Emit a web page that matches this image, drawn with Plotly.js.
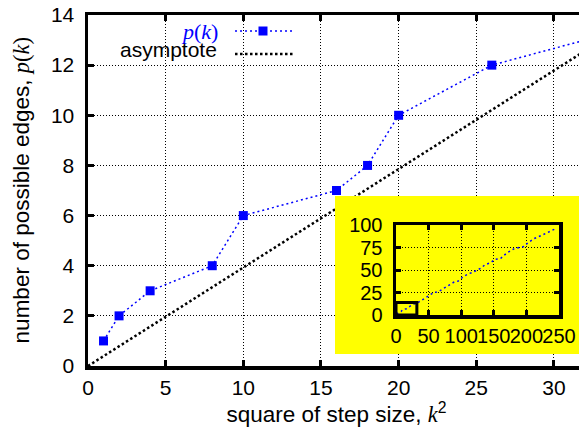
<!DOCTYPE html>
<html>
<head>
<meta charset="utf-8">
<script src="https://cdn.plot.ly/plotly-3.0.1.min.js"></script>
<style>
html, body { margin:0; padding:0; overflow:hidden; background:#fff; width:579px; height:439px; }
#main { position:absolute; left:0; top:0; }
#inset { position:absolute; left:335px; top:196px; }
</style>
</head>
<body>
<div id="main"></div>
<div id="inset"></div>
<script>
// ---- data ----
const k2All = [1, 2, 4, 8, 10, 16, 18, 20, 26, 32, 40, 50, 58, 64, 82, 90, 95, 104, 112, 118, 130, 136, 146, 152, 160, 170, 182, 196, 202, 212, 225, 245];
const pAll  = [1, 2, 3, 4, 6, 7, 8, 10, 12, 13, 17, 22, 25, 25.5, 34, 37, 37.5, 43, 46, 47.5, 52, 55.5, 58.5, 62, 62.5, 69, 74, 76, 80, 85, 89, 96];
const asymptoteX = [0, 32];
const asymptoteY = [0, 12.57];
const mainXRange = [0, 32];
const mainYRange = [0, 14];
const insetXRange = [0, 250];
const insetYRange = [0, 100];
const legendLabels = ['<i>p</i>(<i>k</i>)', 'asymptote'];
const xTitle = 'square of step size, <span style="font-family:Liberation Serif"><i>k</i></span><sup>2</sup>';
const yTitle = 'number of possible edges, <span style="font-family:Liberation Serif"><i>p</i>(<i>k</i>)</span>';

const BLUE = '#0000ff';
const SANS = 'Liberation Sans, Arial, sans-serif';
const SERIF = 'Liberation Serif, Times New Roman, serif';

function axisStyle(extra) {
  return Object.assign({
    showgrid: true, gridcolor: '#000', gridwidth: 1, griddash: '1px,2px',
    showline: true, linecolor: '#000', linewidth: 3.5, mirror: 'ticks',
    ticks: 'inside', ticklen: 6, tickwidth: 3, tickcolor: '#000',
    zeroline: false, tickangle: 0, tickfont: {family: SANS, size: 21, color: '#000'},
    fixedrange: true
  }, extra);
}

const mainTraces = [
  {x: k2All, y: pAll, type: 'scatter', mode: 'lines+markers', showlegend: false,
   line: {color: BLUE, width: 1.5, dash: '2px,3px'},
   marker: {symbol: 'square', size: 9, color: BLUE}},
  {x: asymptoteX, y: asymptoteY, type: 'scatter', mode: 'lines', showlegend: false,
   line: {color: '#000', width: 2.5, dash: '2.5px,2.5px'}}
];

const mainLayout = {
  width: 592, height: 439,
  margin: {l: 88, r: 7, t: 15, b: 73},
  paper_bgcolor: '#fff', plot_bgcolor: '#fff',
  font: {family: SANS, color: '#000'},
  xaxis: axisStyle({range: mainXRange, tick0: 0, dtick: 5,
    title: {text: xTitle, font: {family: SANS, size: 22.5}, standoff: 6}}),
  yaxis: axisStyle({range: mainYRange, tick0: 0, dtick: 2, ticklabelstandoff: 6}),
  annotations: [
    {xref: 'paper', yref: 'paper', x: -0.133, y: 0.5, xanchor: 'center', yanchor: 'middle',
     textangle: -90, text: yTitle, showarrow: false, font: {family: SANS, size: 22.5, color: '#000'}},
    {xref: 'paper', yref: 'paper', x: 0.2656, y: 0.9544, xanchor: 'right', yanchor: 'middle',
     text: legendLabels[0], showarrow: false, font: {family: SERIF, size: 22, color: BLUE}},
    {xref: 'paper', yref: 'paper', x: 0.2636, y: 0.9003, xanchor: 'right', yanchor: 'middle',
     text: legendLabels[1], showarrow: false, font: {family: SANS, size: 21, color: '#000'}}
  ],
  shapes: [
    {type: 'line', xref: 'paper', yref: 'paper', x0: 0.2958, x1: 0.4125, y0: 0.9544, y1: 0.9544,
     line: {color: BLUE, width: 1.5, dash: '2px,3px'}, layer: 'above'},
    {type: 'rect', xref: 'paper', yref: 'paper', xsizemode: 'pixel', ysizemode: 'pixel',
     xanchor: 0.3521, yanchor: 0.9544, x0: -4.5, x1: 4.5, y0: -4.5, y1: 4.5,
     fillcolor: BLUE, line: {width: 0}, layer: 'above'},
    {type: 'line', xref: 'paper', yref: 'paper', x0: 0.2958, x1: 0.4125, y0: 0.8889, y1: 0.8889,
     line: {color: '#000', width: 2.5, dash: '2.5px,2.5px'}, layer: 'above'}
  ]
};

Plotly.newPlot('main', mainTraces, mainLayout, {staticPlot: true, displayModeBar: false});

const insetTraces = [
  {x: k2All, y: pAll, type: 'scatter', mode: 'lines', showlegend: false,
   line: {color: BLUE, width: 1.5, dash: '2px,3px'}}
];

const insetLayout = {
  width: 250, height: 158,
  margin: {l: 61, r: 26, t: 29, b: 39},
  paper_bgcolor: '#ffff00', plot_bgcolor: '#ffff00',
  font: {family: SANS, color: '#000'},
  xaxis: axisStyle({range: insetXRange, tick0: 0, dtick: 50, ticklen: 5,
    tickfont: {family: SANS, size: 20, color: '#000'}}),
  yaxis: axisStyle({range: insetYRange, tick0: 0, dtick: 25, ticklen: 5, ticklabelstandoff: 6,
    tickfont: {family: SANS, size: 20, color: '#000'}}),
  shapes: [
    {type: 'rect', xref: 'x', yref: 'y', x0: mainXRange[0], x1: mainXRange[1], y0: mainYRange[0], y1: mainYRange[1],
     line: {color: '#000', width: 3}, fillcolor: 'rgba(0,0,0,0)', layer: 'above'}
  ]
};

Plotly.newPlot('inset', insetTraces, insetLayout, {staticPlot: true, displayModeBar: false});
</script>
</body>
</html>
